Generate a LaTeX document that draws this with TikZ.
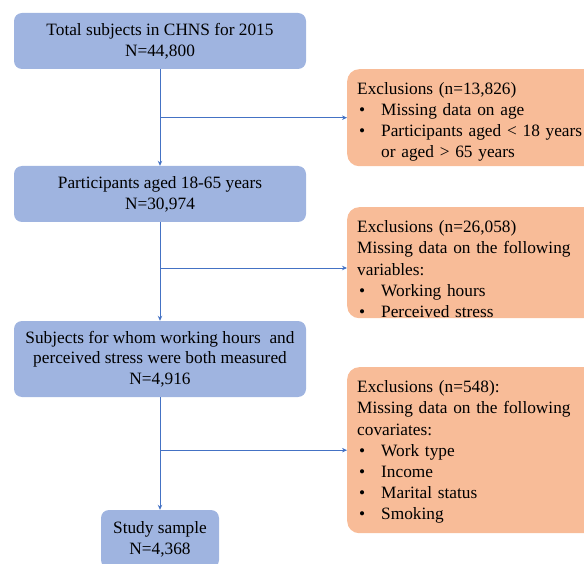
\documentclass[tikz,border=0pt]{standalone}
\usepackage{fontspec}
\setmainfont{Liberation Serif}
\usetikzlibrary{arrows.meta}
\definecolor{boxblue}{HTML}{9FB4E0}
\definecolor{boxorange}{HTML}{F8BC98}
\definecolor{linkblue}{HTML}{4472C4}
\newcommand{\bl}{\makebox[24pt][l]{\hspace{2pt}\textbullet}}
\begin{document}
\begin{tikzpicture}[x=1pt,y=-1pt,
  bluebox/.style={fill=boxblue, rounded corners=8pt, align=center, inner sep=0pt,
    minimum width=292pt, font=\fontsize{17.3}{20.7}\selectfont},
  orangebox/.style={fill=boxorange, rounded corners=12pt, align=left, anchor=north west,
    text width=230pt, inner xsep=10pt, inner ysep=0pt, font=\fontsize{17.3}{21.2}\selectfont},
  arr/.style={draw=linkblue, line width=0.7pt, -{Stealth[length=5pt,width=4.5pt]}}]
\useasboundingbox (0,0) rectangle (584,564);
\node[bluebox, minimum height=56pt] (b1) at (160,41) {Total subjects in CHNS for 2015\\N=44,800};
\node[bluebox, minimum height=56pt] (b2) at (160,194) {Participants aged 18-65 years\\N=30,974};
\node[bluebox, minimum height=76pt] (b3) at (160,359) {Subjects for whom working hours~ and\\perceived stress were both measured\\N=4,916};
\node[bluebox, minimum width=118pt, minimum height=58pt] (b4) at (160,539) {Study sample\\N=4,368};
\node[orangebox, minimum height=97pt] (o1) at (347,69) {\rule{0pt}{20pt}Exclusions (n=13,826)\\\bl Missing data on age\\\bl Participants aged < 18 years\\\hspace*{24pt}or aged > 65 years};
\node[orangebox, minimum height=111pt] (o2) at (347,207) {\rule{0pt}{25pt}Exclusions (n=26,058)\\Missing data on the following\\variables:\\\bl Working hours\\\bl Perceived stress};
\node[orangebox, minimum height=166pt] (o3) at (347,367) {\rule{0pt}{16pt}Exclusions (n=548):\\Missing data on the following\\covariates:\\\bl Work type\\\bl Income\\\bl Marital status\\\bl Smoking};
\draw[arr] (b1) -- (b2);
\draw[arr] (b2) -- (b3);
\draw[arr] (b3) -- (b4);
\draw[arr] (b1.south |- o1.west) -- (o1.west);
\draw[arr] (b2.south |- 0,268) -- (o2.west |- 0,268);
\draw[arr] (b3.south |- o3.west) -- (o3.west);
\end{tikzpicture}
\end{document}
